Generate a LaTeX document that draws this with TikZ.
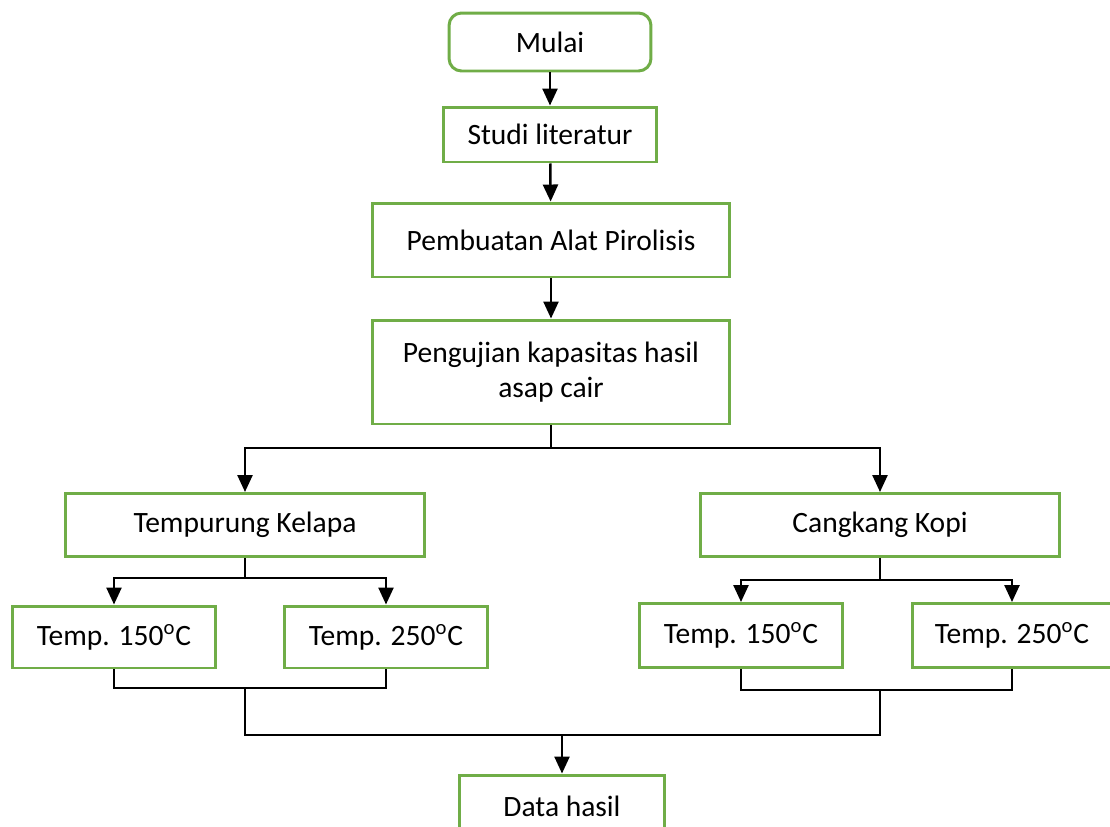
\documentclass[tikz,border=0pt]{standalone}
\usepackage{fontspec}
\setmainfont{Carlito}
\usepackage{tikz}
\usetikzlibrary{arrows.meta}
\definecolor{hijauKotak}{RGB}{112,173,71}
\tikzset{
  kotak/.style={rectangle, draw=hijauKotak, line width=1.7pt, fill=white,
                minimum width=4.08cm, minimum height=1.24cm,
                align=center, font=\fontsize{16.8}{19.5}\selectfont},
  kotakmulai/.style={kotak, rounded corners=0.25cm},
  panah/.style={-{Triangle[length=0.34cm, width=0.3cm]}, line width=1.4pt, black},
  garis/.style={line width=1.1pt, black},
  garistipis/.style={line width=0.8pt, black},
}

\begin{document}
\begin{tikzpicture}[x=0.02cm, y=-0.02cm]
  \useasboundingbox (0,0) rectangle (1110,826);
  \node[kotakmulai, minimum width=4.04cm, minimum height=1.16cm] (mulai) at (550,42) {Mulai};
  \node[kotak, minimum width=4.28cm, minimum height=1.10cm] (studi) at (550,134.5) {Studi literatur};
  \node[kotak, minimum width=7.16cm, minimum height=1.48cm] (alat) at (551,240) {Pembuatan Alat Pirolisis};
  \node[kotak, minimum width=7.16cm, minimum height=2.08cm] (uji) at (551,372) {Pengujian kapasitas hasil\\asap cair};
  \node[kotak, minimum width=7.2cm, minimum height=1.26cm] (kelapa) at (245,525) {Tempurung Kelapa};
  \node[kotak, minimum width=7.2cm, minimum height=1.26cm] (kopi) at (880,525) {Cangkang Kopi};
  \node[kotak] (t1) at (114,637) {Temp. 150\textsuperscript{o}C};
  \node[kotak] (t2) at (386,637) {Temp. 250\textsuperscript{o}C};
  \node[kotak, minimum height=1.28cm] (t3) at (741,635.5) {Temp. 150\textsuperscript{o}C};
  \node[kotak, minimum width=4.0cm, minimum height=1.28cm] (t4) at (1012,635.5) {Temp. 250\textsuperscript{o}C};
  \node[kotak, minimum width=4.1cm] (hasil) at (562,806) {Data hasil};

  \draw[panah] (mulai) -- (studi);
  \draw[panah] (studi) -- (alat);
  \draw[panah] (alat) -- (uji);

  \coordinate (cab1) at (551,448);
  \coordinate (cab2) at (245,578);
  \coordinate (cab3) at (880,580);
  \draw[garistipis] (uji.south) -- (cab1);
  \draw[panah] (cab1) -| (kelapa.north);
  \draw[panah] (cab1) -| (kopi.north);
  \draw[garistipis] (kelapa.south) -- (cab2);
  \draw[panah] (cab2) -| (t1.north);
  \draw[panah] (cab2) -| (t2.north);
  \draw[garistipis] (kopi.south) -- (cab3);
  \draw[panah] (cab3) -| (t3.north);
  \draw[panah] (cab3) -| (t4.north);

  % gabungan hasil
  \coordinate (gab1) at (245,688);
  \coordinate (gab2) at (880,690);
  \coordinate (gab3) at (562,735);
  \draw[garistipis] (t1.south) |- (gab1) -| (t2.south);
  \draw[garistipis] (t3.south) |- (gab2) -| (t4.south);
  \draw[garistipis] (gab1) |- (gab3);
  \draw[garistipis] (gab2) |- (gab3);
  \draw[panah] (gab3) -- (hasil.north);
\end{tikzpicture}
\end{document}
